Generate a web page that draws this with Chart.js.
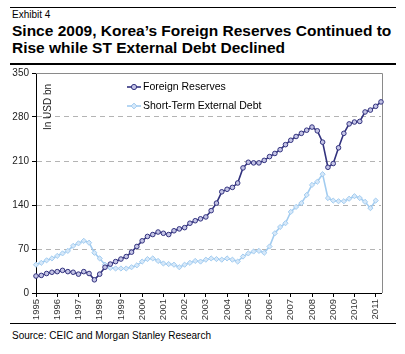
<!DOCTYPE html>
<html>
<head>
<meta charset="utf-8">
<script src="https://cdn.jsdelivr.net/npm/chart.js@4.4.1/dist/chart.umd.min.js"></script>
<style>
  body { margin: 0; background: #fff; font-family: "Liberation Sans", Arial, sans-serif; }
  #page { position: relative; width: 405px; height: 354px; overflow: hidden; }
  .rule { position: absolute; left: 10px; width: 386px; height: 0; border-top: 1px solid #000; }
  #exhibit { position: absolute; left: 12px; top: 9px; font-size: 10px; }
  #title { position: absolute; left: 12px; top: 22px; font-size: 15.5px; font-weight: bold; line-height: 17px; }
  #wrap { position: absolute; left: 0; top: 64px; width: 405px; height: 258px; }
  #source { position: absolute; left: 12px; top: 330px; font-size: 10px; }
</style>
</head>
<body>
<div id="page">
  <div class="rule" style="top:7px"></div>
  <div id="exhibit">Exhibit 4</div>
  <div id="title">Since 2009, Korea’s Foreign Reserves Continued to<br>Rise while ST External Debt Declined</div>
  <div class="rule" style="top:63px;border-top-width:2px"></div>
  <div id="wrap"><canvas id="chart" width="405" height="258"></canvas></div>
  <div class="rule" style="top:323px"></div>
  <div id="source">Source: CEIC and Morgan Stanley Research</div>
</div>
<script>
// quarterly, 1995Q1 .. 2011Q2
const quarters = [
  '1995Q1','1995Q2','1995Q3','1995Q4','1996Q1','1996Q2','1996Q3','1996Q4',
  '1997Q1','1997Q2','1997Q3','1997Q4','1998Q1','1998Q2','1998Q3','1998Q4',
  '1999Q1','1999Q2','1999Q3','1999Q4','2000Q1','2000Q2','2000Q3','2000Q4',
  '2001Q1','2001Q2','2001Q3','2001Q4','2002Q1','2002Q2','2002Q3','2002Q4',
  '2003Q1','2003Q2','2003Q3','2003Q4','2004Q1','2004Q2','2004Q3','2004Q4',
  '2005Q1','2005Q2','2005Q3','2005Q4','2006Q1','2006Q2','2006Q3','2006Q4',
  '2007Q1','2007Q2','2007Q3','2007Q4','2008Q1','2008Q2','2008Q3','2008Q4',
  '2009Q1','2009Q2','2009Q3','2009Q4','2010Q1','2010Q2','2010Q3','2010Q4',
  '2011Q1','2011Q2'
];

const foreignReserves = [
  27, 28, 31, 33, 34, 36, 34, 33,
  30, 34, 31, 21, 30, 41, 46, 50,
  54, 58, 65, 74, 83, 90, 93, 97,
  95, 93, 99, 102, 104, 111, 115, 118,
  121, 131, 143, 161, 165, 168, 175, 199,
  208, 207, 207, 211, 217, 222, 228, 236,
  243, 249, 254, 259, 264, 258, 240, 200,
  206, 231, 254, 269, 272, 273, 288, 291,
  297, 304
];

const shortTermDebt = [
  45, 48, 52, 55, 59, 63, 67, 75,
  79, 83, 80, 64, 55, 45, 40, 39,
  39, 39, 41, 44, 50, 54, 55, 51,
  47, 46, 45, 41, 45, 48, 51, 50,
  53, 55, 54, 53, 55, 53, 50, 58,
  63, 66, 67, 64, 74, 95, 105, 111,
  129, 137, 143, 156, 172, 177, 189, 151,
  147, 146, 146, 150, 154, 151, 145, 135,
  147, null
];

const yTicks = [0, 70, 140, 210, 280, 350];

const FONT = '"Liberation Sans", Arial, sans-serif';
const navy = '#32327e';
const sky = '#a2ccf0';

// grey frame on top/right of plot area
const framePlugin = {
  id: 'frame',
  beforeDatasetsDraw(chart) {
    const { ctx, chartArea: a } = chart;
    ctx.save();
    ctx.strokeStyle = '#8a8a8a';
    ctx.lineWidth = 1;
    ctx.beginPath();
    ctx.moveTo(a.left, a.top + 0.5);
    ctx.lineTo(a.right + 1.5, a.top + 0.5);
    ctx.lineTo(a.right + 1.5, a.bottom);
    ctx.stroke();
    // unit label
    ctx.translate(a.left + 12, a.top + 34);
    ctx.rotate(-Math.PI / 2);
    ctx.fillStyle = '#222';
    ctx.font = '10px ' + FONT;
    ctx.textAlign = 'center';
    ctx.textBaseline = 'middle';
    ctx.fillText('In USD bn', 0, 0);
    ctx.restore();
  }
};

// legend drawn inside the plot
const legendPlugin = {
  id: 'innerLegend',
  afterDraw(chart) {
    const { ctx } = chart;
    const rows = [23, 42];
    chart.data.datasets.forEach((ds, i) => {
      const y = rows[i];
      ctx.save();
      ctx.strokeStyle = ds.borderColor;
      ctx.lineWidth = 1.6;
      ctx.beginPath();
      ctx.moveTo(127, y);
      ctx.lineTo(141, y);
      ctx.stroke();
      ctx.fillStyle = ds.pointBackgroundColor;
      ctx.strokeStyle = ds.pointBorderColor;
      ctx.lineWidth = 1;
      Chart.helpers.drawPoint(ctx, {
        pointStyle: ds.pointStyle, radius: ds.pointRadius + 0.3, borderWidth: 1
      }, 134, y);
      ctx.fillStyle = '#000';
      ctx.font = '10.5px ' + FONT;
      ctx.textBaseline = 'middle';
      ctx.fillText(ds.label, 143, y + 0.5);
      ctx.restore();
    });
  }
};

new Chart(document.getElementById('chart'), {
  type: 'line',
  data: {
    labels: quarters,
    datasets: [
      {
        label: 'Foreign Reserves',
        data: foreignReserves,
        borderColor: navy,
        borderWidth: 1.6,
        pointStyle: 'circle',
        pointRadius: 2.3,
        pointBorderWidth: 1,
        pointBorderColor: navy,
        pointBackgroundColor: '#c4c4e6',
        tension: 0
      },
      {
        label: 'Short-Term External Debt',
        data: shortTermDebt,
        borderColor: sky,
        borderWidth: 1.6,
        pointStyle: 'rectRot',
        pointRadius: 2.6,
        pointBorderWidth: 1,
        pointBorderColor: sky,
        pointBackgroundColor: '#d6e8f9',
        tension: 0
      }
    ]
  },
  options: {
    responsive: false,
    animation: false,
    devicePixelRatio: 1,
    layout: { padding: { left: 0, right: 24, top: 9, bottom: 0 } },
    plugins: { legend: { display: false }, tooltip: { enabled: false } },
    scales: {
      x: {
        type: 'category',
        offset: false,
        afterFit(scale) { scale.height = 29; },
        border: { color: '#000', width: 1 },
        grid: {
          drawOnChartArea: false,
          tickLength: 4,
          color: (c) => (c.index % 4 === 0 ? '#000' : 'rgba(0,0,0,0)')
        },
        ticks: {
          autoSkip: false,
          minRotation: 90,
          maxRotation: 90,
          padding: 2,
          color: '#333',
          font: { family: FONT, size: 9.5 },
          callback: (v, i) => (i % 4 === 0 ? quarters[i].slice(0, 4) : '')
        }
      },
      y: {
        min: yTicks[0],
        max: yTicks[yTicks.length - 1],
        afterFit(scale) { scale.width = 36; },
        afterBuildTicks(scale) { scale.ticks = yTicks.map(v => ({ value: v })); },
        border: { color: '#000', width: 1, dash: [5, 4] },
        grid: {
          tickLength: 4,
          tickColor: '#000',
          color: (c) => (c.tick && (c.tick.value === 0 || c.tick.value === 350) ? 'rgba(0,0,0,0)' : '#b4b4b4')
        },
        ticks: {
          padding: 3,
          color: '#222',
          font: { family: FONT, size: 10 }
        }
      }
    }
  },
  plugins: [framePlugin, legendPlugin]
});
</script>
</body>
</html>
